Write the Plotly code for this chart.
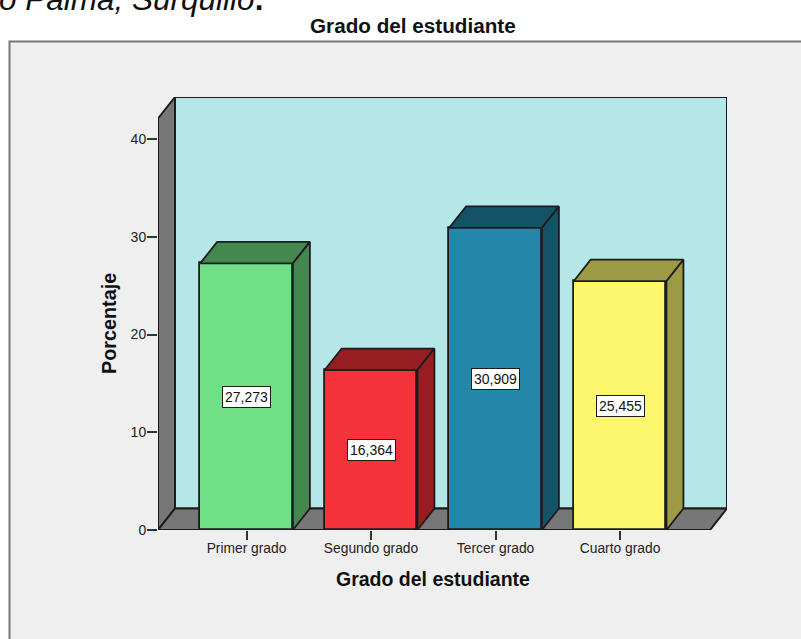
import plotly.graph_objects as go

categories = ["Primer grado", "Segundo grado", "Tercer grado", "Cuarto grado"]
values = [27.273, 16.364, 30.909, 25.455]
front_colors = ["#70DF85", "#F4323A", "#2387A9", "#FCF76D"]
depth_colors = ["#44874F", "#961D22", "#145366", "#9D9A45"]
y_ticks = [0, 10, 20, 30, 40]

W, H = 801, 639
FONT = "Liberation Sans"
EDGE = "#1c1c1c"
bar_w = 0.745
dx, dy = 0.1365, 2.2
x_min, x_max = -0.711, 3.859
y_max = 44.3
positions = list(range(len(categories)))

fig = go.Figure()
fig.add_trace(go.Bar(x=positions, y=values, width=bar_w,
                     marker=dict(color=front_colors, line=dict(color=EDGE, width=1.8)),
                     hoverinfo="skip", showlegend=False))

for p, v, c in zip(positions, values, depth_colors):
    l, r = p - bar_w / 2, p + bar_w / 2
    fig.add_trace(go.Scatter(x=[l, l + dx, r + dx, r, l], y=[v, v + dy, v + dy, v, v],
                             fill="toself", fillcolor=c, mode="lines",
                             line=dict(color=EDGE, width=1.8), hoverinfo="skip", showlegend=False))
    fig.add_trace(go.Scatter(x=[r, r + dx, r + dx, r, r], y=[v, v + dy, dy, 0, v],
                             fill="toself", fillcolor=c, mode="lines",
                             line=dict(color=EDGE, width=1.8), hoverinfo="skip", showlegend=False))

shapes = [
    dict(type="rect", xref="paper", yref="paper", x0=9.5 / W, x1=1.05, y0=-0.05, y1=1 - 41.5 / H,
         fillcolor="#EFEFEF", line=dict(color="#777777", width=2), layer="below"),
    dict(type="rect", xref="x", yref="y", x0=x_min + dx, x1=x_max, y0=dy, y1=y_max,
         fillcolor="#B5E6E8", line=dict(color=EDGE, width=2), layer="below"),
    dict(type="path", xref="x", yref="y",
         path=f"M{x_min},0 L{x_min + dx},{dy} L{x_min + dx},{y_max} L{x_min},{y_max - dy} Z",
         fillcolor="#777777", line=dict(color=EDGE, width=2), layer="below"),
    dict(type="path", xref="x", yref="y",
         path=f"M{x_min},0 L{x_min + dx},{dy} L{x_max},{dy} L{x_max - dx},0 Z",
         fillcolor="#777777", line=dict(color=EDGE, width=2), layer="below"),
]

annotations = [
    dict(x=p, y=v / 2, xref="x", yref="y", text=f"{v:.3f}".replace(".", ","), showarrow=False,
         bgcolor="white", bordercolor=EDGE, borderwidth=1, borderpad=2,
         font=dict(family=FONT, size=14, color="#111111"))
    for p, v in zip(positions, values)
]
annotations += [
    dict(x=413 / W, y=1 - 25 / H, xref="paper", yref="paper", xanchor="center", yanchor="middle",
         text="<b>Grado del estudiante</b>", showarrow=False,
         font=dict(family=FONT, size=20.7, color="#111111")),
    dict(x=433 / W, y=1 - 579 / H, xref="paper", yref="paper", xanchor="center", yanchor="middle",
         text="<b>Grado del estudiante</b>", showarrow=False,
         font=dict(family=FONT, size=19.5, color="#111111")),
    dict(x=109 / W, y=1 - 324 / H, xref="paper", yref="paper", xanchor="center", yanchor="middle",
         text="<b>Porcentaje</b>", textangle=-90, showarrow=False,
         font=dict(family=FONT, size=19.8, color="#111111")),
    dict(x=-3 / W, y=1 + 21 / H, xref="paper", yref="paper", xanchor="left", yanchor="top",
         text="<i>o Palma, Surquillo</i><b>.</b>", showarrow=False,
         font=dict(family=FONT, size=31.5, color="#111111")),
]

fig.update_layout(
    width=W, height=H, margin=dict(l=0, r=0, t=0, b=0, autoexpand=False), autosize=False,
    paper_bgcolor="white", plot_bgcolor="rgba(0,0,0,0)", showlegend=False,
    shapes=shapes, annotations=annotations, bargap=0,
    xaxis=dict(domain=[158 / W, 727 / W], range=[x_min, x_max], tickmode="array", tickvals=positions,
               ticktext=categories, ticks="outside", ticklen=9, tickwidth=2, tickcolor="#333333",
               showgrid=False, zeroline=False, showline=False, ticklabelstandoff=-4,
               tickfont=dict(family=FONT, size=13.8, color="#222222")),
    yaxis=dict(domain=[1 - 530 / H, 1 - 97 / H], range=[0, y_max], tickmode="array", tickvals=y_ticks,
               ticks="outside", ticklen=10, tickwidth=2, tickcolor="#333333",
               showgrid=False, zeroline=False, showline=False, ticklabelstandoff=-2,
               tickfont=dict(family=FONT, size=14, color="#222222")),
)
fig.write_html("out.html", config=dict(displayModeBar=False),
               post_script="document.body.style.margin='0';document.body.style.overflow='hidden';")
